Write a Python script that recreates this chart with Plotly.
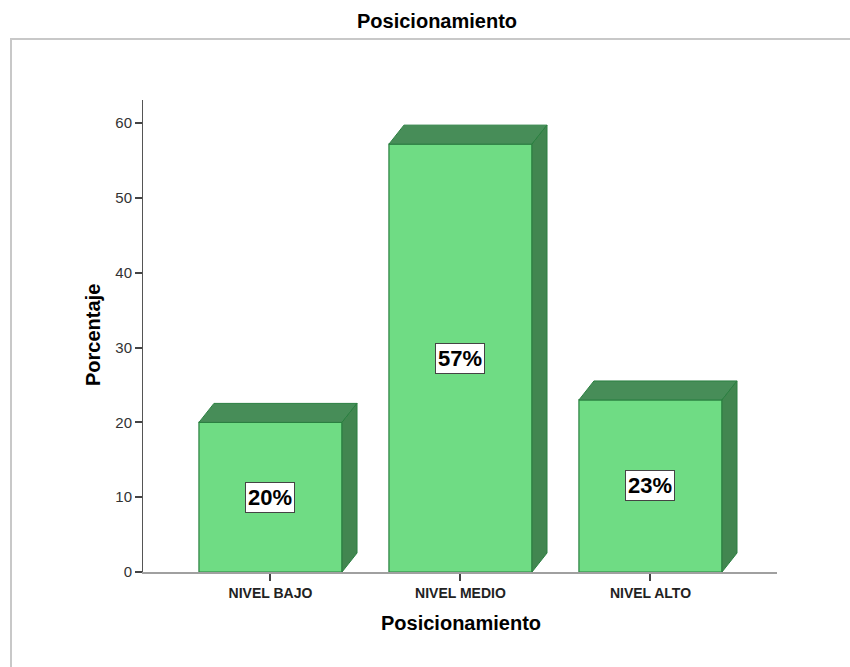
import plotly.graph_objects as go

categories = ["NIVEL BAJO", "NIVEL MEDIO", "NIVEL ALTO"]
percentages = [20.0, 57.2, 23.0]
labels = ["20%", "57%", "23%"]
y_ticks = [0, 10, 20, 30, 40, 50, 60]

# layout geometry (pixels)
W, H = 850, 667
L, R, T, B = 143, 73, 100, 95
plot_w = W - L - R
plot_h = H - T - B
x_range = [-0.671, 2.666]
y_range = [0, 63.1]
px_per_x = plot_w / (x_range[1] - x_range[0])
px_per_y = plot_h / (y_range[1] - y_range[0])
bar_w = 0.753
dx = 15 / px_per_x
dy = 19 / px_per_y

front = "#6FDC84"
top_c = "#478D58"
side_c = "#428650"
edge = "#2A7F40"
FONT = "Liberation Sans, Arial"

xs = list(range(len(categories)))
fig = go.Figure()
fig.add_trace(go.Bar(x=xs, y=percentages, width=bar_w,
                     marker=dict(color=front, line=dict(color=edge, width=1.2)),
                     hoverinfo="skip"))

shapes = []
for x, v in zip(xs, percentages):
    x0, x1 = x - bar_w / 2, x + bar_w / 2
    shapes.append(dict(type="path", xref="x", yref="y", layer="above",
                       path=f"M {x0},{v} L {x0+dx},{v+dy} L {x1+dx},{v+dy} L {x1},{v} Z",
                       fillcolor=top_c, line=dict(color=edge, width=1)))
    shapes.append(dict(type="path", xref="x", yref="y", layer="above",
                       path=f"M {x1},0 L {x1+dx},{dy} L {x1+dx},{v+dy} L {x1},{v} Z",
                       fillcolor=side_c, line=dict(color=edge, width=1)))

def px2paper_x(p):
    return (p - L) / plot_w

def px2paper_y(p):
    return (H - B - p) / plot_h

# outer frame
shapes.append(dict(type="rect", xref="paper", yref="paper", layer="below",
                   x0=px2paper_x(11), x1=px2paper_x(870),
                   y0=px2paper_y(690), y1=px2paper_y(39),
                   line=dict(color="#C8C8C8", width=2), fillcolor="rgba(0,0,0,0)"))

annotations = []
for x, v, t in zip(xs, percentages, labels):
    annotations.append(dict(x=x, y=v / 2, xref="x", yref="y", text=f"<b>{t}</b>",
                            xanchor="center", yanchor="middle",
                            showarrow=False, bgcolor="white", bordercolor="#444444",
                            borderwidth=1, borderpad=2,
                            font=dict(family=FONT, size=22, color="black")))

annotations.append(dict(x=px2paper_x(437), y=px2paper_y(21), xref="paper", yref="paper",
                        xanchor="center", yanchor="middle",
                        text="<b>Posicionamiento</b>", showarrow=False,
                        font=dict(family=FONT, size=20, color="black")))
annotations.append(dict(x=px2paper_x(461), y=px2paper_y(623), xref="paper", yref="paper",
                        xanchor="center", yanchor="middle",
                        text="<b>Posicionamiento</b>", showarrow=False,
                        font=dict(family=FONT, size=20, color="black")))
annotations.append(dict(x=px2paper_x(93), y=px2paper_y(335), xref="paper", yref="paper",
                        xanchor="center", yanchor="middle",
                        text="<b>Porcentaje</b>", showarrow=False, textangle=-90,
                        font=dict(family=FONT, size=20, color="black")))

fig.update_layout(
    width=W, height=H,
    margin=dict(l=L, r=R, t=T, b=B),
    paper_bgcolor="white", plot_bgcolor="white",
    showlegend=False,
    shapes=shapes, annotations=annotations,
    xaxis=dict(range=x_range, tickvals=xs,
               ticktext=[f"<b>{c}</b>" for c in categories],
               showgrid=False, zeroline=False, showline=True, linecolor="#A0A0A0", linewidth=2,
               ticks="outside", ticklen=7, tickcolor="#444444", tickwidth=1.5,
               tickfont=dict(family=FONT, size=14, color="#222222")),
    yaxis=dict(range=y_range, tickvals=y_ticks,
               showgrid=False, zeroline=False, showline=True, linecolor="#555555", linewidth=1,
               ticks="outside", ticklen=7, tickcolor="#444444", tickwidth=1.5,
               tickfont=dict(family=FONT, size=15, color="#333333")),
)

fig.write_html("out.html")
